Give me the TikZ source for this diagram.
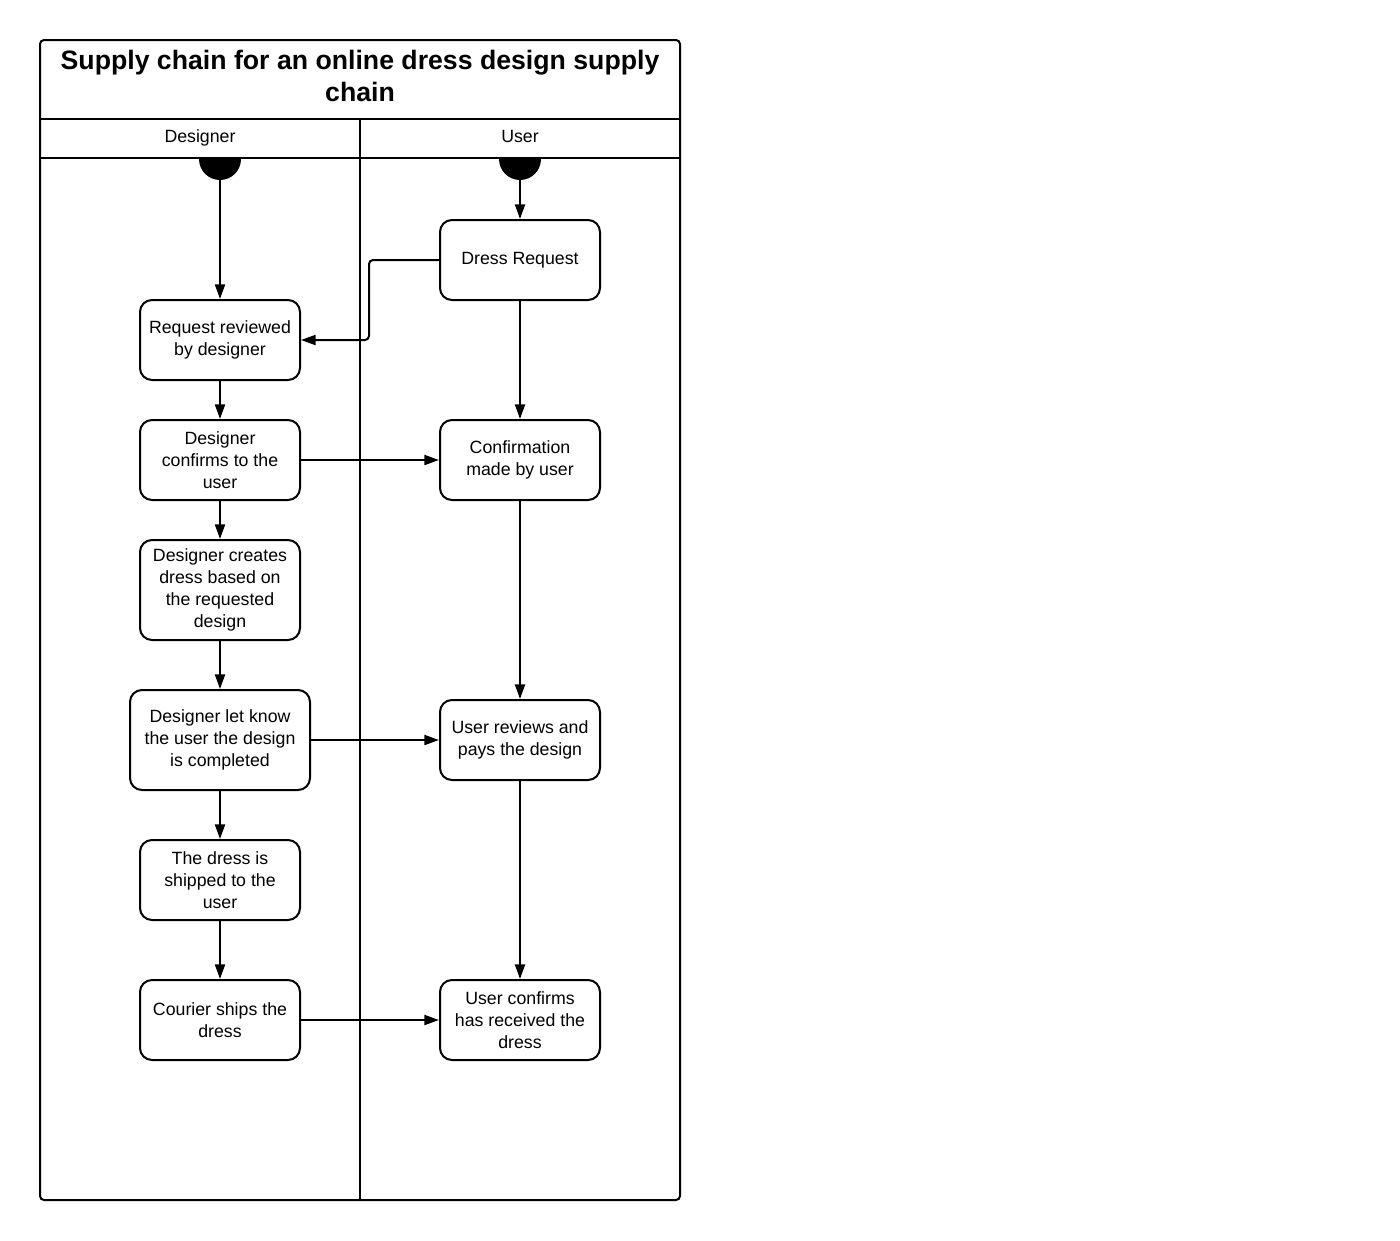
\documentclass[tikz,border=0pt]{standalone}
\usepackage{fontspec}
\setmainfont{Liberation Sans}
\usepackage{tikz}
\usetikzlibrary{arrows.meta}
\tikzset{
every picture/.style={line width=1.5pt, >={Triangle[length=11pt,width=7.5pt]}},
%%%%%%%%%%  Node styles
activity/.style={draw, rounded corners=9pt, align=center, inner sep=2pt,
                 minimum width=120pt, minimum height=60pt,
                 font=\fontsize{13.3}{16.5}\selectfont},
wide_activity/.style={activity, minimum width=135pt, minimum height=75pt},
tall_activity/.style={activity, minimum height=75pt},
start_dot/.style={fill=black, circle, minimum size=31.5pt, inner sep=0pt, outer sep=0},
lane_title/.style={anchor=base, font=\fontsize{13.3}{16.5}\selectfont},
pool_title/.style={align=center, font=\fontsize{20}{24}\selectfont\bfseries},
%%%%%%% connectors
flow/.style={->, rounded corners=3pt}
}

\begin{document}
\begin{tikzpicture}[x=0.75pt, y=-0.75pt]
\useasboundingbox (0,0) rectangle (1400,1240);
%%pool and lanes
\draw[rounded corners=3pt] (40,40) rectangle (680,1200);
\draw (40,119) -- (680,119);
\draw (40,158) -- (680,158);
\draw (360,119) -- (360,1200);
\node[pool_title] (pool) at (360,76) {Supply chain for an online dress design supply\\chain};
\node[lane_title] (lane_d) at (200,142.5) {Designer};
\node[lane_title] (lane_u) at (520,142.5) {User};
%%start points, cut by the lane header
\begin{scope}
\clip (40,158) rectangle (680,1200);
\node[start_dot] (st_d) at (220,159) {};
\node[start_dot] (st_u) at (520,159) {};
\end{scope}
%%designer lane
\node[activity] (rev) at (220,340) {Request reviewed\\by designer};
\node[activity] (conf_d) at (220,460) {Designer\\confirms to the\\user};
\node[tall_activity] (make) at (220,590) {Designer creates\\dress based on\\the requested\\design};
\node[wide_activity] (done) at (220,740) {Designer let know\\the user the design\\is completed};
\node[activity] (ship) at (220,880) {The dress is\\shipped to the\\user};
\node[activity] (cour) at (220,1020) {Courier ships the\\dress};
%%user lane
\node[activity] (req) at (520,260) {Dress Request};
\node[activity] (conf_u) at (520,460) {Confirmation\\made by user};
\node[activity] (pay) at (520,740) {User reviews and\\pays the design};
\node[activity] (recv) at (520,1020) {User confirms\\has received the\\dress};
%%flows
\draw[flow] (st_d.south) -- (rev.north);
\draw[flow] (st_u.south) -- (req.north);
\draw[flow] (req.west) -- ++(-70,0) |- (rev.east);
\draw[flow] (rev) -- (conf_d);
\draw[flow] (conf_d) -- (make);
\draw[flow] (make) -- (done);
\draw[flow] (done) -- (ship);
\draw[flow] (ship) -- (cour);
\draw[flow] (req) -- (conf_u);
\draw[flow] (conf_u) -- (pay);
\draw[flow] (pay) -- (recv);
\draw[flow] (conf_d) -- (conf_u);
\draw[flow] (done) -- (pay);
\draw[flow] (cour) -- (recv);
\end{tikzpicture}
\end{document}
